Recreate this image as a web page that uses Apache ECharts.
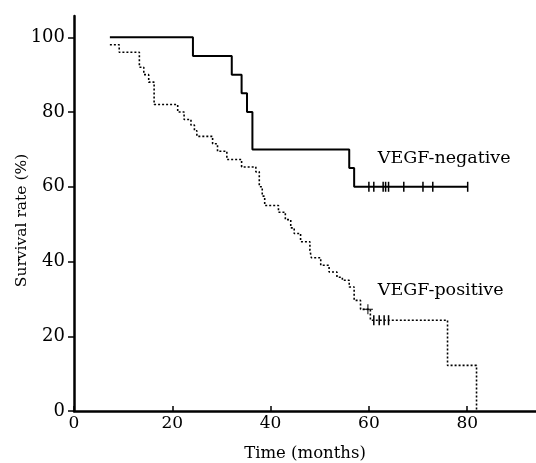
<!doctype html>
<html>
<head>
    <meta charset="utf-8">
    <title>Survival rate</title>
    <script src="https://cdn.jsdelivr.net/npm/echarts@6/dist/echarts.min.js"></script>
    <style>
        html, body { margin: 0; padding: 0; background: #fff; }
        #Chart { width: 536px; height: 463px; }
    </style>
</head>
<body>
    <div id="Chart"></div>
<script>
    // tick labels
    var xTicks = [0, 20, 40, 60, 80];
    var yTicks = [0, 20, 40, 60, 80, 100];

    // VEGF-negative (months, survival %)
    var negTime = [7.3, 24.2, 32.1, 34.1, 35.2, 36.3, 56.0, 57.0, 80.1];
    var negSurv = [100, 95, 90, 85, 80, 70, 65, 60, 60];
    var negCensorTime = [60.0, 61.0, 62.9, 63.4, 64.0, 67.1, 71.0, 73.0, 80.1];
    var negCensorSurv = [60, 60, 60, 60, 60, 60, 60, 60, 60];

    // VEGF-positive
    var posTime = [7.3, 9.2, 13.3, 14.2, 15.2, 16.3, 21.1, 22.4, 23.8, 24.5, 25.0, 28.2, 29.2, 31.1, 34.1, 37.0, 37.7, 38.3, 38.8, 41.6, 43.0, 44.1, 44.8, 46.1, 48.0, 48.3, 50.2, 51.9, 53.5, 54.6, 56.0, 57.0, 58.3, 60.3, 76.0, 81.9];
    var posSurv = [98, 96, 92, 90, 88, 82, 80, 78, 76.5, 75, 73.5, 71.5, 69.5, 67.3, 65.3, 64, 60, 57.5, 55, 53.2, 51.2, 49, 47.5, 45.3, 43, 41, 39, 37.2, 35.8, 35, 33.2, 29.6, 27.2, 24.3, 12.2, 0];
    var posCensorTime = [59.8, 61.0, 62.1, 63.1, 64.0];
    var posCensorSurv = [27.2, 24.3, 24.3, 24.3, 24.3];

    // group names, placed at (months, %)
    var groupNames = ['VEGF-negative', 'VEGF-positive'];
    var groupAt = [[61.8, 67.7], [61.8, 32.3]];

    function zip(a, b) {
        var out = [];
        for (var i = 0; i < a.length; i++) {
            out.push([a[i], b[i]]);
        }
        return out;
    }

    var font = '"DejaVu Serif", "Liberation Serif", serif';
    var tickMark = 'path://M0,0 L2,0 L2,20 L0,20 Z';
    var plusMark = 'path://M9,0 L11,0 L11,9 L20,9 L20,11 L11,11 L11,20 L9,20 L9,11 L0,11 L0,9 L9,9 Z';

    var myChart = echarts.init(document.getElementById('Chart'), null, { renderer: 'canvas' });
    var option = {
        backgroundColor: '#fff',
        animation: false,
        grid: { left: 74, right: 0, top: 16, bottom: 52, containLabel: false, outerBoundsMode: 'none' },
        xAxis: {
            type: 'value',
            min: 0,
            max: 94,
            name: 'Time (months)',
            nameLocation: 'middle',
            nameGap: 34,
            nameMoveOverlap: false,
            nameTextStyle: { fontFamily: font, fontSize: 16.5, color: '#000' },
            splitLine: { show: false },
            axisLine: { lineStyle: { color: '#000', width: 2.5 } },
            axisTick: { inside: true, length: 5, customValues: xTicks, lineStyle: { color: '#000', width: 1.5 } },
            axisLabel: { customValues: xTicks, margin: 4, fontFamily: font, fontSize: 17, color: '#000' }
        },
        yAxis: {
            type: 'value',
            min: 0,
            max: 105.7,
            name: 'Survival rate (%)',
            nameLocation: 'middle',
            nameGap: 44,
            nameRotate: 90,
            nameMoveOverlap: false,
            nameTextStyle: { fontFamily: font, fontSize: 15.5, color: '#000', padding: [0, 14, 0, 0] },
            splitLine: { show: false },
            axisLine: { lineStyle: { color: '#000', width: 2.5 } },
            axisTick: { inside: false, length: 6, customValues: yTicks, lineStyle: { color: '#000', width: 1.5 } },
            axisLabel: { customValues: yTicks, margin: 9, fontFamily: font, fontSize: 18, color: '#000' }
        },
        series: [
            {
                name: 'VEGF-negative',
                type: 'line',
                step: 'end',
                symbol: 'none',
                data: zip(negTime, negSurv),
                lineStyle: { color: '#000', width: 2 }
            },
            {
                name: 'VEGF-negative censored',
                type: 'scatter',
                symbol: tickMark,
                symbolSize: [1.5, 10],
                itemStyle: { color: '#000', opacity: 1 },
                data: zip(negCensorTime, negCensorSurv)
            },
            {
                name: 'VEGF-positive',
                type: 'line',
                step: 'end',
                symbol: 'none',
                data: zip(posTime, posSurv),
                lineStyle: { color: '#000', width: 1.6, type: [2, 2] }
            },
            {
                name: 'VEGF-positive censored',
                type: 'scatter',
                symbol: function (val, params) {
                    return params.dataIndex === 0 ? plusMark : tickMark;
                },
                symbolSize: function (val, params) {
                    return params.dataIndex === 0 ? [10, 10] : [1.5, 10];
                },
                itemStyle: { color: '#000', opacity: 1 },
                data: zip(posCensorTime, posCensorSurv)
            },
            {
                name: 'group names',
                type: 'scatter',
                symbolSize: 0,
                silent: true,
                itemStyle: { opacity: 1 },
                data: groupAt.map(function (p, i) {
                    return { value: p, name: groupNames[i] };
                }),
                label: {
                    show: true,
                    position: 'inside',
                    align: 'left',
                    verticalAlign: 'middle',
                    formatter: '{b}',
                    fontFamily: font,
                    fontSize: 17.5,
                    color: '#000'
                }
            }
        ]
    };
    myChart.setOption(option);
</script>
</body>
</html>
